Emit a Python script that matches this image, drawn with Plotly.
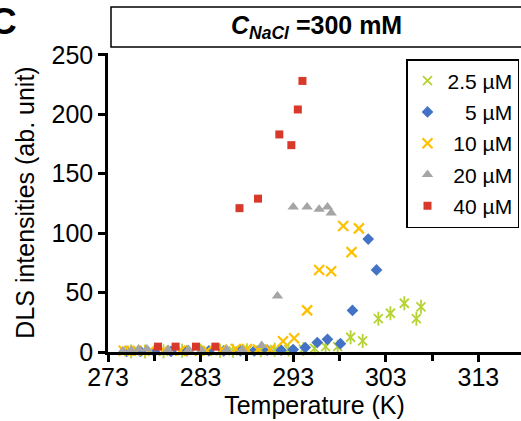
import plotly.graph_objects as go

# ---- data ----
t_25 = [275.5, 277.0, 279.0, 281.0, 283.0, 285.1, 286.5, 288.0, 289.5, 291.0, 292.5, 294.1, 295.3, 296.5, 297.8, 299.2, 300.5, 302.2, 303.5, 305.0, 306.3, 306.8]
i_25 = [0.5, 0.5, 0.5, 1.0, 1.0, 1.0, 1.0, 1.5, 1.5, 2.0, 2.0, 2.5, 3.0, 4.5, 4.5, 12.4, 9.3, 28.0, 32.6, 41.0, 28.0, 38.0]

t_5 = [275.0, 276.5, 278.0, 279.8, 281.5, 283.9, 285.5, 287.3, 288.8, 290.2, 291.7, 293.0, 294.3, 295.6, 296.7, 298.1, 299.4, 301.1, 302.0]
i_5 = [0.5, 0.5, 0.5, 0.5, 1.0, 1.0, 1.0, 1.0, 1.0, 1.5, 1.5, 2.0, 3.7, 8.0, 10.7, 7.0, 35.0, 95.0, 69.0]

t_10 = [274.7, 275.3, 276.0, 277.5, 279.0, 280.8, 282.0, 283.7, 285.3, 286.8, 288.0, 289.2, 290.5, 291.9, 293.1, 294.5, 295.8, 297.1, 298.4, 299.3, 300.1]
i_10 = [1.0, 1.0, 1.0, 1.0, 1.5, 1.0, 1.0, 1.0, 2.0, 2.5, 2.5, 2.0, 2.0, 9.0, 11.5, 35.0, 69.0, 68.0, 106.0, 84.0, 104.0]

t_20 = [274.6, 275.5, 276.3, 277.2, 279.5, 281.7, 283.1, 285.8, 287.5, 289.6, 291.3, 293.0, 294.5, 295.8, 296.7, 297.1]
i_20 = [1.0, 1.5, 2.5, 2.5, 2.0, 2.0, 1.5, 2.0, 2.0, 5.5, 47.0, 122.0, 122.0, 120.0, 122.0, 117.0]

t_40 = [278.4, 280.3, 282.5, 284.6, 287.2, 289.2, 291.5, 292.8, 293.5, 294.0]
i_40 = [4.5, 4.5, 4.5, 4.5, 121.0, 129.0, 183.0, 174.0, 204.0, 228.0]

labels = ["2.5 µM", "\u2007\u2008" + "5 µM", "\u2008" + "10 µM", "\u2008" + "20 µM", "\u2008" + "40 µM"]
colors = ["#b5d334", "#4472c4", "#ffc000", "#a5a5a5", "#d9392b"]

FONT = "Liberation Sans, Arial, sans-serif"

fig = go.Figure()

# 2.5 uM: asterisk drawn as x + vertical bar
fig.add_trace(go.Scatter(x=t_25, y=i_25, mode="markers", name=labels[0], legendgroup="g1",
                         cliponaxis=False,
                         marker=dict(symbol="x-thin-open", size=9, color=colors[0],
                                     line=dict(color=colors[0], width=1.8))))
fig.add_trace(go.Scatter(x=t_25, y=i_25, mode="markers", showlegend=False, legendgroup="g1",
                         cliponaxis=False,
                         marker=dict(symbol="line-ns-open", size=10, color=colors[0],
                                     line=dict(color=colors[0], width=1.8))))
fig.add_trace(go.Scatter(x=t_5, y=i_5, mode="markers", name=labels[1], legendgroup="g2",
                         cliponaxis=False,
                         marker=dict(symbol="diamond", size=9, color=colors[1], line=dict(width=0))))
fig.add_trace(go.Scatter(x=t_10, y=i_10, mode="markers", name=labels[2], legendgroup="g3",
                         cliponaxis=False,
                         marker=dict(symbol="x-thin-open", size=10, color=colors[2],
                                     line=dict(color=colors[2], width=2.2))))
fig.add_trace(go.Scatter(x=t_20, y=i_20, mode="markers", name=labels[3], legendgroup="g4",
                         cliponaxis=False,
                         marker=dict(symbol="triangle-up", size=10, color=colors[3], line=dict(width=0))))
fig.add_trace(go.Scatter(x=t_40, y=i_40, mode="markers", name=labels[4], legendgroup="g5",
                         cliponaxis=False,
                         marker=dict(symbol="square", size=8, color=colors[4], line=dict(width=0))))

L, R, T, B = 108, 0, 53, 69
W, H = 521, 421
pw, ph = W - L - R, H - T - B

fig.update_layout(
    width=W, height=H,
    margin=dict(l=L, r=R, t=T, b=B, pad=0, autoexpand=False),
    paper_bgcolor="white", plot_bgcolor="white",
    font=dict(family=FONT, size=25, color="black"),
    showlegend=True,
    legend=dict(
        x=(519 - L) / pw, xanchor="right",
        y=(H - B - 59) / ph, yanchor="top",
        bordercolor="black", borderwidth=1.5, bgcolor="white",
        font=dict(family=FONT, size=21, color="black"),
        traceorder="grouped", tracegroupgap=1,
        itemwidth=30,
    ),
    xaxis=dict(
        automargin=False,
        range=[273, 273 + pw / 9.26],
        tickmode="linear", tick0=273, dtick=10,
        ticks="outside", ticklen=7, tickwidth=2.5, tickcolor="black",
        minor=dict(tickmode="linear", tick0=273, dtick=5, ticks="outside",
                   ticklen=6, tickwidth=2.5, tickcolor="black", showgrid=False),
        showline=True, linecolor="black", linewidth=2.5,
        showgrid=False, zeroline=False,
        tickfont=dict(size=25),
        ticklabelstandoff=-6,
        title=dict(text="Temperature (K)", font=dict(size=25), standoff=0),
    ),
    yaxis=dict(
        automargin=False,
        range=[0, 251.5],
        tickmode="linear", tick0=0, dtick=50,
        ticks="outside", ticklen=7, tickwidth=2.5, tickcolor="black",
        showline=True, linecolor="black", linewidth=2.5,
        showgrid=False, zeroline=False,
        tickfont=dict(size=25),
        title=dict(text="DLS intensities (ab. unit)", font=dict(size=25), standoff=10),
    ),
)

# title box
fig.add_shape(type="rect", xref="paper", yref="paper",
              x0=(111 - L) / pw, x1=1.02,
              y0=(H - B - 47) / ph, y1=(H - B - 7) / ph,
              line=dict(color="black", width=1.5), fillcolor="white", layer="above")
fig.add_annotation(xref="paper", yref="paper",
                   x=(316 - L) / pw, y=(H - B - 27) / ph,
                   xanchor="center", yanchor="middle", showarrow=False,
                   text="<b><i>C</i><sub><i>NaCl</i></sub> =300 mM</b>",
                   font=dict(family=FONT, size=25, color="black"))
# panel label
fig.add_annotation(xref="paper", yref="paper",
                   x=(-12 - L) / pw, y=(H - B - 21) / ph,
                   xanchor="left", yanchor="middle", showarrow=False,
                   text="<b>C</b>",
                   font=dict(family=FONT, size=37, color="black"))

fig.write_html("out.html",
               config={"displayModeBar": False},
               post_script="document.body.style.margin='0';document.body.style.overflow='hidden';")
